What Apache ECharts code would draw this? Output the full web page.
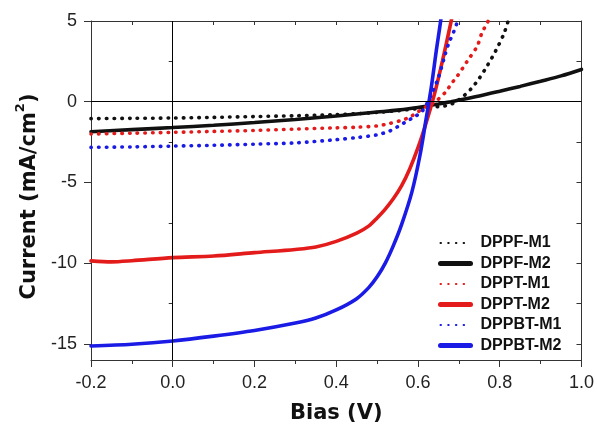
<!DOCTYPE html>
<html>
<head>
<meta charset="utf-8">
<script src="https://cdn.jsdelivr.net/npm/echarts@6/dist/echarts.min.js"></script>
<style>
html,body{margin:0;padding:0;background:#fff;}
#chart{width:597px;height:429px;}
</style>
</head>
<body>
<div id="chart"></div>
<script>
// ---- data ----
const seriesNames = ['DPPF-M1', 'DPPF-M2', 'DPPT-M1', 'DPPT-M2', 'DPPBT-M1', 'DPPBT-M2'];

const dppfM1V = [-0.2, -0.1, 0, 0.1, 0.2, 0.3, 0.4, 0.45, 0.5, 0.55, 0.6, 0.63, 0.65, 0.67, 0.69, 0.71, 0.73, 0.75, 0.77, 0.79, 0.81, 0.82, 0.83];
const dppfM1J = [-1.05, -1.03, -1.01, -0.97, -0.92, -0.87, -0.8, -0.74, -0.66, -0.56, -0.42, -0.34, -0.3, -0.24, -0.05, 0.32, 0.8, 1.45, 2.25, 3.15, 4.2, 4.95, 5.7];

const dppfM2V = [-0.2, -0.1, 0, 0.1, 0.2, 0.3, 0.4, 0.5, 0.55, 0.6, 0.65, 0.68, 0.7, 0.75, 0.8, 0.85, 0.9, 0.95, 1.0];
const dppfM2J = [-1.86, -1.73, -1.6, -1.46, -1.29, -1.1, -0.88, -0.64, -0.52, -0.36, -0.14, 0.0, 0.1, 0.36, 0.65, 0.95, 1.27, 1.6, 2.0];

const dpptM1V = [-0.2, -0.1, 0, 0.1, 0.2, 0.3, 0.4, 0.45, 0.5, 0.53, 0.56, 0.58, 0.6, 0.62, 0.645, 0.67, 0.68, 0.695, 0.72, 0.745, 0.757, 0.77, 0.78];
const dpptM1J = [-2.0, -1.95, -1.9, -1.84, -1.78, -1.7, -1.62, -1.58, -1.5, -1.35, -1.15, -0.95, -0.62, -0.3, 0.06, 0.67, 1.07, 1.54, 2.49, 3.45, 4.31, 4.9, 5.6];

const dpptM2V = [-0.2, -0.15, -0.1, 0, 0.1, 0.2, 0.3, 0.35, 0.4, 0.45, 0.48, 0.5, 0.52, 0.54, 0.56, 0.58, 0.6, 0.62, 0.64, 0.66, 0.68, 0.69];
const dpptM2J = [-9.86, -9.92, -9.85, -9.66, -9.56, -9.35, -9.15, -9.0, -8.65, -8.14, -7.69, -7.2, -6.65, -6.0, -5.2, -4.15, -2.85, -1.3, 0.45, 2.55, 4.85, 6.1];

const dppbtM1V = [-0.2, -0.1, 0, 0.1, 0.2, 0.3, 0.4, 0.45, 0.5, 0.53, 0.55, 0.57, 0.59, 0.61, 0.63, 0.65, 0.665, 0.675, 0.687, 0.695, 0.705];
const dppbtM1J = [-2.83, -2.8, -2.75, -2.7, -2.63, -2.55, -2.35, -2.22, -2.05, -1.82, -1.55, -1.25, -0.95, -0.6, 0.3, 1.5, 2.8, 3.6, 4.31, 4.85, 5.6];

const dppbtM2V = [-0.2, -0.1, 0, 0.1, 0.2, 0.3, 0.35, 0.4, 0.45, 0.48, 0.5, 0.52, 0.54, 0.56, 0.585, 0.605, 0.62, 0.633, 0.645, 0.655, 0.66];
const dppbtM2J = [-15.13, -15.02, -14.82, -14.52, -14.17, -13.71, -13.4, -12.9, -12.2, -11.5, -10.85, -10.0, -8.9, -7.6, -5.6, -3.3, -1.05, 0.97, 3.2, 4.92, 6.0];

const xTickLabels = [-0.2, 0.0, 0.2, 0.4, 0.6, 0.8, 1.0];
const yTickLabels = [-15, -10, -5, 0, 5];
const yMinorTicks = [-12.5, -7.5, -2.5, 2.5];
const yAllTicks = [-15, -12.5, -10, -7.5, -5, -2.5, 0, 2.5, 5];

// ---- build ----
const pairs = (v, j) => v.map((x, i) => [x, j[i]]);
const BLACK = '#111111', RED = '#e41b1b', BLUE = '#1b1be6';
const dotted = c => ({ color: c, width: 3.6, type: [0.5, 7.2], cap: 'round' });
const solid = c => ({ color: c, width: 3.6, type: 'solid', cap: 'round' });
const isSolid = n => /M2$/.test(n);

function mk(name, v, j, color, style) {
  return {
    name, type: 'line', data: pairs(v, j), showSymbol: false, symbol: 'none',
    smooth: 0.3, clip: true, color, lineStyle: style(color), xAxisIndex: 0, yAxisIndex: 0
  };
}

const axisColor = '#333';
const tickFont = { fontFamily: 'Liberation Sans', fontSize: 18, color: '#222' };
const titleFont = { fontFamily: 'DejaVu Sans', fontWeight: 'bold', fontSize: 21, color: '#111' };

const option = {
  animation: false,
  backgroundColor: '#fff',
  grid: { left: 91, right: 15, top: 21, bottom: 63, containLabel: false },
  legend: {
    orient: 'vertical', left: 438, top: 235, padding: 0,
    itemWidth: 30, itemHeight: 14, itemGap: 4.5,
    data: seriesNames.map(n => isSolid(n) ? { name: n, lineStyle: { width: 5 } } : { name: n }),
    itemStyle: { opacity: 0 },
    textStyle: { fontFamily: 'Liberation Sans', fontWeight: 'bold', fontSize: 16, color: '#111', padding: [0, 0, 0, 5] }
  },
  xAxis: [
    {
      type: 'value', position: 'bottom', min: -0.2, max: 1.0, interval: 0.2,
      axisLine: { show: true, onZero: false, lineStyle: { color: axisColor, width: 1 } },
      axisTick: { show: true, inside: false, length: 7, lineStyle: { color: axisColor } },
      minorTick: { show: true, splitNumber: 2, length: 4, lineStyle: { color: axisColor } },
      axisLabel: Object.assign({ margin: 14, customValues: xTickLabels, formatter: v => (Math.abs(v) < 1e-9 ? 0 : v).toFixed(1) }, tickFont),
      splitLine: { show: false },
      name: 'Bias (V)', nameLocation: 'middle', nameGap: 43, nameTextStyle: titleFont
    },
    {
      type: 'value', position: 'top', min: -0.2, max: 1.0, interval: 0.2,
      axisLine: { show: true, onZero: false, lineStyle: { color: axisColor, width: 1 } },
      axisTick: { show: true, inside: true, length: 4, lineStyle: { color: axisColor } },
      minorTick: { show: true, splitNumber: 2, length: 4, lineStyle: { color: axisColor } },
      axisLabel: { show: false }, splitLine: { show: false }
    }
  ],
  yAxis: [
    {
      type: 'value', position: 'left', min: -16, max: 5,
      axisLine: { show: true, onZero: false, lineStyle: { color: axisColor, width: 1 } },
      axisTick: { show: true, inside: false, length: 7, customValues: yTickLabels, lineStyle: { color: axisColor } },
      axisLabel: Object.assign({ margin: 14, customValues: yTickLabels }, tickFont),
      splitLine: { show: false },
      name: '{t|Current (mA/cm}{s|2}{t|)}', nameLocation: 'middle', nameGap: 43, nameRotate: 90,
      nameTextStyle: {
        padding: [0, 12, 0, 0],
        rich: {
          t: { fontFamily: 'DejaVu Sans', fontWeight: 'bold', fontSize: 21, color: '#111', lineHeight: 26, verticalAlign: 'bottom' },
          s: { fontFamily: 'DejaVu Sans', fontWeight: 'bold', fontSize: 13, color: '#111', lineHeight: 26, verticalAlign: 'top', padding: [0, 0, 10, 0] }
        }
      }
    },
    {
      type: 'value', position: 'left', min: -16, max: 5,
      axisLine: { show: false },
      axisTick: { show: true, inside: false, length: 4, customValues: yMinorTicks, lineStyle: { color: axisColor } },
      axisLabel: { show: false }, splitLine: { show: false }
    },
    {
      type: 'value', position: 'right', min: -16, max: 5,
      axisLine: { show: true, onZero: false, lineStyle: { color: axisColor, width: 1 } },
      axisTick: { show: true, inside: true, length: 5, customValues: yAllTicks, lineStyle: { color: axisColor } },
      axisLabel: { show: false }, splitLine: { show: false }
    }
  ],
  series: [
    {
      name: 'zero', type: 'line', data: [], xAxisIndex: 0, yAxisIndex: 0,
      markLine: {
        silent: true, symbol: 'none', label: { show: false }, animation: false,
        lineStyle: { color: '#000', width: 1, type: 'solid' },
        data: [{ yAxis: 0 }, { xAxis: 0 }]
      }
    },
    mk('DPPF-M1', dppfM1V, dppfM1J, BLACK, dotted),
    mk('DPPF-M2', dppfM2V, dppfM2J, BLACK, solid),
    mk('DPPT-M1', dpptM1V, dpptM1J, RED, dotted),
    mk('DPPT-M2', dpptM2V, dpptM2J, RED, solid),
    mk('DPPBT-M1', dppbtM1V, dppbtM1J, BLUE, dotted),
    mk('DPPBT-M2', dppbtM2V, dppbtM2J, BLUE, solid)
  ]
};

const chart = echarts.init(document.getElementById('chart'), null, { renderer: 'canvas' });
chart.setOption(option);
</script>
</body>
</html>
